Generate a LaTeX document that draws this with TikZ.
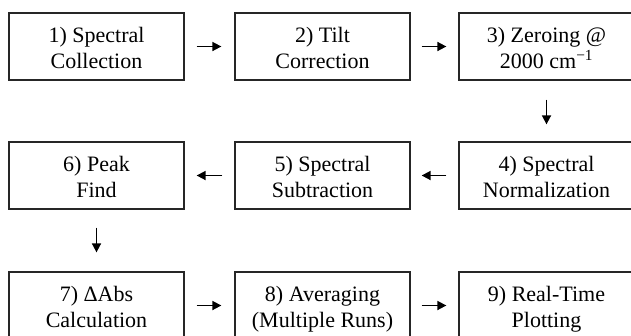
\documentclass[tikz,border=0pt]{standalone}
\usepackage{fontspec}
\setmainfont{Liberation Serif}
\usetikzlibrary{arrows.meta}
\begin{document}
\begin{tikzpicture}[x=1pt,y=-1pt,
  stepbox/.style={draw=black!85,line width=1.3pt,minimum width=175pt,minimum height=67pt,
    inner sep=0pt},
  steptext/.style={inner sep=0pt,align=center,yshift=-3.5pt,
    font=\fontsize{22pt}{26pt}\selectfont},
  flow/.style={line width=1.7pt,-{Triangle[length=9pt,width=9pt]}}]
\useasboundingbox (0,0) rectangle (631,335);
\fill[white] (0,0) rectangle (631,335);
\node[stepbox] (b1) at (96.5,46.5) {};
\node[stepbox] (b2) at (322.5,46.5) {};
\node[stepbox] (b3) at (546.5,46.5) {};
\node[stepbox] (b4) at (546.5,175.5) {};
\node[stepbox] (b5) at (322.5,175.5) {};
\node[stepbox] (b6) at (96.5,175.5) {};
\node[stepbox] (b7) at (96.5,305.5) {};
\node[stepbox] (b8) at (322.5,305.5) {};
\node[stepbox] (b9) at (546.5,305.5) {};
\node[steptext] (t1) at (b1.center) {\strut 1) Spectral\\\strut Collection};
\node[steptext] (t2) at (b2.center) {\strut 2) Tilt\\\strut Correction};
\node[steptext] (t3) at (b3.center) {\strut 3) Zeroing @\\\strut 2000 cm\textsuperscript{\char"2212 1}};
\node[steptext] (t4) at (b4.center) {\strut 4) Spectral\\\strut Normalization};
\node[steptext] (t5) at (b5.center) {\strut 5) Spectral\\\strut Subtraction};
\node[steptext] (t6) at (b6.center) {\strut 6) Peak\\\strut Find};
\node[steptext] (t7) at (b7.center) {\strut 7) \char"0394 Abs\\\strut Calculation};
\node[steptext] (t8) at (b8.center) {\strut 8) Averaging\\\strut (Multiple Runs)};
\node[steptext] (t9) at (b9.center) {\strut 9) Real-Time\\\strut Plotting};
\draw[flow,shorten <=12pt,shorten >=13pt] (b1) -- (b2);
\draw[flow,shorten <=11pt,shorten >=12pt] (b2) -- (b3);
\draw[flow,shorten <=19pt,shorten >=17pt] (b3) -- (b4);
\draw[flow,shorten <=12pt,shorten >=11pt] (b4) -- (b5);
\draw[flow,shorten <=12pt,shorten >=12pt] (b5) -- (b6);
\draw[flow,shorten <=18pt,shorten >=19pt] (b6) -- (b7);
\draw[flow,shorten <=12pt,shorten >=13pt] (b7) -- (b8);
\draw[flow,shorten <=11pt,shorten >=12pt] (b8) -- (b9);
\end{tikzpicture}
\end{document}
